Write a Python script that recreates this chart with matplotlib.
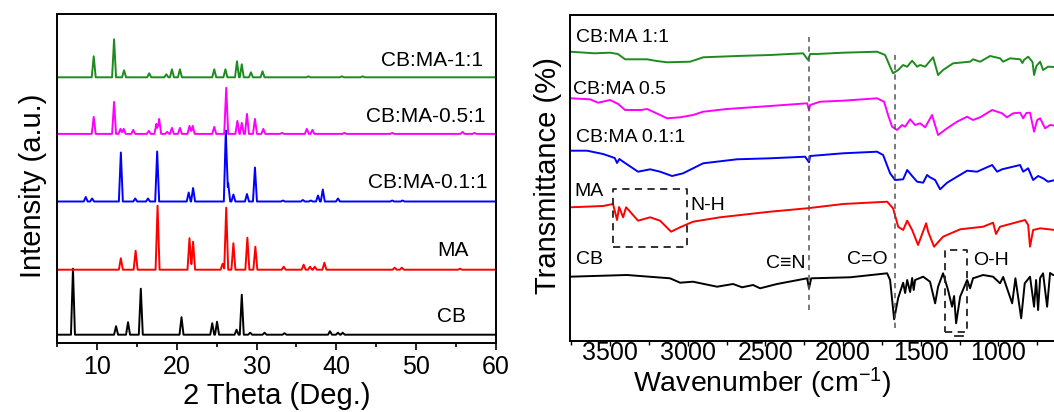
import numpy as np
import matplotlib
matplotlib.use("Agg")
import matplotlib.pyplot as plt
from matplotlib.ticker import MultipleLocator, NullLocator, FixedLocator

plt.rcParams['font.family'] = ['Liberation Sans', 'DejaVu Sans']
plt.rcParams['mathtext.default'] = 'regular'

# ---------------- XRD data (left panel) ----------------
xrd_names = ["CB", "MA", "CB:MA-0.1:1", "CB:MA-0.5:1", "CB:MA-1:1"]
xrd_colors = ["#000000", "#ff0000", "#0000ff", "#ff00ff", "#1f8b1f"]
xrd_offsets = [8.3, 73.3, 141.5, 209.1, 265.7]

cb_pos = [7.0, 12.4, 13.9, 15.5, 20.6, 24.45, 25.05, 27.5, 28.15, 29.2, 31.0, 33.5, 39.2, 40.2, 40.8]
cb_int = [66, 8.5, 12.5, 46, 17.5, 11.5, 13, 5, 40, 2, 2, 1.5, 3.5, 2, 2]

ma_pos = [13.0, 14.85, 17.6, 21.6, 22.05, 25.75, 26.2, 27.1, 28.85, 29.85, 33.4, 35.9, 36.7, 37.3, 38.5, 47.3, 48.2, 55.5]
ma_int = [11.5, 19, 64, 31.5, 28, 6, 62, 26.5, 32, 23, 3, 5, 3, 3, 7, 2, 2, 1]

m01_pos = [8.6, 9.4, 13.0, 14.8, 16.4, 17.55, 21.5, 22.05, 26.15, 26.45, 27.1, 28.8, 29.8, 33.3, 35.8, 36.8, 37.7, 38.3, 40.2, 47.0, 48.3]
m01_int = [4.5, 3, 49, 3, 3, 50, 9, 13.5, 71, 18, 7, 7.5, 34, 1, 1.5, 1, 6, 12, 3, 1, 1]

m05_pos = [9.6, 12.15, 12.95, 13.35, 14.55, 16.5, 17.45, 17.8, 18.8, 19.4, 20.4, 21.6, 22.0, 24.7, 26.2, 27.6, 28.15, 28.8, 29.8, 30.85, 33.2, 36.3, 37.0, 41.0, 47.0, 55.8, 57.3]
m05_int = [17, 32, 5, 5, 4, 3, 10, 15, 2, 6, 6, 8, 8, 7, 46, 13, 11, 20, 15, 5, 1, 5, 4, 1, 1, 2, 1]

m1_pos = [9.6, 12.15, 13.4, 16.55, 18.7, 19.4, 20.4, 24.7, 26.1, 27.55, 28.15, 29.3, 30.75, 36.5, 40.7, 43.3]
m1_int = [21, 38, 7, 4, 3, 8, 8, 8, 8, 16, 13, 5, 6, 1, 1, 1]

xrd_peaks = [(cb_pos, cb_int), (ma_pos, ma_int), (m01_pos, m01_int),
             (m05_pos, m05_int), (m1_pos, m1_int)]
xrd_label_x = [56.2, 56.6, 58.9, 58.7, 58.4]
xrd_label_y = [26, 93, 160, 226, 283]
xrd_ticks = [10, 20, 30, 40, 50, 60]

# ---------------- FTIR data (right panel) ----------------
ftir_names = ["CB", "MA", "CB:MA 0.1:1", "CB:MA 0.5", "CB:MA 1:1"]
ftir_colors = ["#000000", "#ff0000", "#0000ff", "#ff00ff", "#1f8b1f"]

cb_wn = [3758, 3391, 3114, 3049, 2966, 2811, 2708, 2650, 2579, 2534, 2425, 2231, 2219, 2205, 1955, 1716,
         1697, 1671, 1645, 1613, 1600, 1587, 1568, 1555, 1545, 1536, 1484, 1440, 1407, 1388, 1356, 1324,
         1298, 1285, 1272, 1246, 1201, 1182, 1163, 1098, 1034, 989, 969, 911, 890, 853, 830, 796, 770,
         757, 744, 731, 712, 686, 667, 647, 600]
cb_t = [64.3, 66, 62.7, 58.3, 59.3, 54.3, 57, 53.7, 56, 52.7, 57, 62.7, 52.7, 62.7, 63.7, 67.7,
        61, 21.7, 43, 58.3, 48, 61, 49, 63, 51, 61, 64.3, 59.3, 37.7, 54.3, 67.7, 51,
        34.3, 45, 17.7, 44.3, 61, 52.7, 62.7, 66, 64.3, 57.7, 64, 37.7, 62.7, 22.7, 57.7, 64.3, 34.3,
        61, 31, 63, 67.7, 34.3, 68, 66, 65]

ma_wn = [3758, 3545, 3481, 3455, 3442, 3416, 3397, 3371, 3320, 3242, 3178, 3107, 3049, 2966, 2792, 2470,
         2231, 2000, 1716, 1678, 1645, 1613, 1587, 1555, 1517, 1465, 1452, 1414, 1356, 1246, 1098, 1034,
         1015, 989, 828, 808, 796, 776, 731, 635]
ma_t = [133.7, 135, 137, 121, 134, 123.7, 133.7, 129.3, 120.3, 123.7, 120.3, 109.3, 113.7, 119.3, 123.7, 129.3,
        132.7, 137, 139.3, 132.7, 114.3, 111, 120.3, 111, 96, 117.7, 109.3, 94.3, 104.3, 111.7, 114.3, 118.3,
        107, 114.3, 121, 116, 94.3, 111, 112.7, 111]

f01_wn = [3758, 3648, 3545, 3470, 3455, 3440, 3416, 3320, 3242, 3178, 3101, 3030, 2901, 2683, 2470, 2244,
          2219, 2212, 2000, 1781, 1742, 1697, 1665, 1613, 1587, 1555, 1523, 1484, 1459, 1440, 1407, 1375,
          1330, 1266, 1201, 1137, 1040, 1008, 976, 860, 840, 808, 776, 744, 712, 680, 635]
f01_t = [190.3, 190.3, 187, 183, 178, 182, 179.3, 169.3, 171.7, 169.3, 165, 167.7, 177.7, 181.7, 182.7, 184.3,
         178.7, 185, 187.7, 189.3, 186, 167.7, 161, 161.7, 171, 165, 159.3, 158.3, 166, 163.7, 161, 151.7,
         158.3, 164.3, 170.3, 169.3, 176, 169.3, 171.7, 176, 169.3, 172.7, 161, 165, 162.7, 159.3, 161]

f05_wn = [3758, 3629, 3577, 3500, 3448, 3403, 3300, 3262, 3223, 3133, 3049, 2966, 2901, 2747, 2470, 2231,
          2219, 2212, 2148, 2000, 1781, 1736, 1710, 1684, 1652, 1620, 1600, 1568, 1536, 1504, 1471, 1427,
          1388, 1330, 1266, 1201, 1163, 1117, 1040, 976, 944, 905, 860, 840, 820, 796, 770, 750, 731, 699,
          667, 620]
f05_t = [242.7, 241.7, 238.3, 241, 237, 231, 231, 232, 229.3, 222.7, 223.7, 226, 229.3, 232, 235, 237.7,
         231, 236, 239.3, 240.3, 242.7, 239.3, 226, 214.3, 211, 216, 214.3, 221.7, 216, 217.7, 213.7, 226,
         206, 212.7, 219.3, 224.3, 221, 223.7, 231, 227.7, 223.7, 227.7, 228.3, 222.7, 228, 228.3, 209.3,
         221, 222.7, 212.7, 216, 215]

f1_wn = [3758, 3600, 3500, 3450, 3403, 3262, 3200, 3133, 2985, 2900, 2683, 2470, 2257, 2225, 2212, 2167,
         2000, 1781, 1729, 1697, 1678, 1645, 1613, 1587, 1555, 1523, 1504, 1471, 1420, 1388, 1356, 1291,
         1182, 1163, 1117, 1053, 989, 969, 924, 860, 845, 835, 808, 780, 770, 755, 731, 712, 680, 641, 600]
f1_t = [289.3, 287.7, 288.3, 287, 281.7, 281.7, 280, 278.7, 279.3, 283.7, 285, 286, 287.7, 281, 287, 287,
        288.3, 289.3, 286, 274.3, 267.7, 271, 276, 274.3, 280.3, 274.3, 276, 274.3, 283.7, 266, 271, 277.7,
        279.3, 281.7, 279.3, 285, 282.7, 279.3, 282.7, 281.7, 278, 281, 284.3, 279, 266, 275, 279.3, 271,
        274.3, 274, 274]

ftir_data = [(cb_wn, cb_t), (ma_wn, ma_t), (f01_wn, f01_t), (f05_wn, f05_t), (f1_wn, f1_t)]
ftir_label_x = [3719, 3732, 3719, 3738, 3719]
ftir_label_y = [81, 150, 204, 252, 303.5]
ftir_ticks = [3500, 3000, 2500, 2000, 1500, 1000]
ftir_minor = [3750, 3250, 2750, 2250, 1750, 1250, 750, 500]

# band markers
band_lines = [(2219, 31, 304), (1665, 13, 286)]
band_boxes = [(3483, 3002, 93.7, 151.7), (1343, 1203, 9.3, 91)]
band_texts = [("N-H", 2980, 136, "left"), ("C\u2261N", 2244, 78, "right"),
              ("C=O", 1716, 81, "right"), ("O-H", 1163, 80.3, "left")]

# ---------------- figure ----------------
W, H = 1054, 412
fig = plt.figure(figsize=(W / 100, H / 100), dpi=100)

ax1 = fig.add_axes([57 / W, (H - 343) / H, 439 / W, 329 / H])
ax2 = fig.add_axes([570 / W, (H - 341) / H, 522 / W, 326 / H])

# XRD traces built from the read peak list (narrow peaks)
hw = 0.25
for (pos, inten), off, col in zip(xrd_peaks, xrd_offsets, xrd_colors):
    pos = np.asarray(pos, float)
    inten = np.asarray(inten, float)
    xs = np.sort(np.concatenate([[5, 60], pos - hw, pos, pos + hw]))
    ys = np.max(np.clip(1 - np.abs(xs[:, None] - pos[None, :]) / hw, 0, None) * inten[None, :], axis=1)
    ax1.plot(xs, ys + off, color=col, lw=1.4, solid_joinstyle='round')

for name, xl, yl in zip(xrd_names, xrd_label_x, xrd_label_y):
    ax1.text(xl, yl, name, ha='right', va='center', fontsize=15)

ax1.set_xlim(5, 60)
ax1.set_ylim(0, 329)
ax1.set_xticks(xrd_ticks)
ax1.xaxis.set_minor_locator(MultipleLocator(5))
ax1.yaxis.set_major_locator(NullLocator())
ax1.tick_params(axis='x', which='major', direction='out', length=5, width=1.2, labelsize=18, pad=3.5)
ax1.tick_params(axis='x', which='minor', direction='out', length=3, width=1.2)
for s in ax1.spines.values():
    s.set_linewidth(1.4)
ax1.set_xlabel("2 Theta (Deg.)", fontsize=21)
ax1.xaxis.label.set_va('baseline')
ax1.xaxis.set_label_coords(0.5, -0.1854)
ax1.set_ylabel("Intensity (a.u.)", fontsize=21)
ax1.yaxis.label.set_va('baseline')
ax1.yaxis.set_label_coords(-0.036, 0.477)

# FTIR
for (wn, t), col in zip(ftir_data, ftir_colors):
    ax2.plot(wn, t, color=col, lw=1.4, solid_joinstyle='round')

for name, xl, yl in zip(ftir_names, ftir_label_x, ftir_label_y):
    ax2.text(xl, yl, name, ha='left', va='center', fontsize=14)

for x, y0, y1 in band_lines:
    ax2.plot([x, x], [y0, y1], color='#555555', lw=1.1, ls=(0, (3.5, 3)))
for x0, x1, y0, y1 in band_boxes:
    ax2.plot([x0, x1, x1, x0, x0], [y0, y0, y1, y1, y0], color='#222222', lw=1.3, ls=(0, (4, 3)))
ax2.plot([1278, 1227], [5, 5], color='#222222', lw=1.3)
for s, x, y, ha in band_texts:
    ax2.text(x, y, s, ha=ha, va='center', fontsize=14)

ax2.set_xlim(3758, 397)
ax2.set_ylim(0, 326)
ax2.set_xticks(ftir_ticks)
ax2.xaxis.set_minor_locator(FixedLocator(ftir_minor))
ax2.yaxis.set_major_locator(NullLocator())
ax2.tick_params(axis='x', which='major', direction='out', length=3.5, width=1.0, labelsize=18, pad=-3.3)
ax2.tick_params(axis='x', which='minor', direction='out', length=3, width=1.0)
for s in ax2.spines.values():
    s.set_linewidth(1.4)
ax2.set_xlabel("Wavenumber (cm$^{-1}$)", fontsize=20.5)
ax2.xaxis.label.set_va('baseline')
ax2.xaxis.set_label_coords(0.368, -0.1564)
ax2.set_ylabel("Transmittance (%)", fontsize=21)
ax2.yaxis.label.set_va('baseline')
ax2.yaxis.set_label_coords(-0.027, 0.508)

fig.savefig("out.png", dpi=100)
